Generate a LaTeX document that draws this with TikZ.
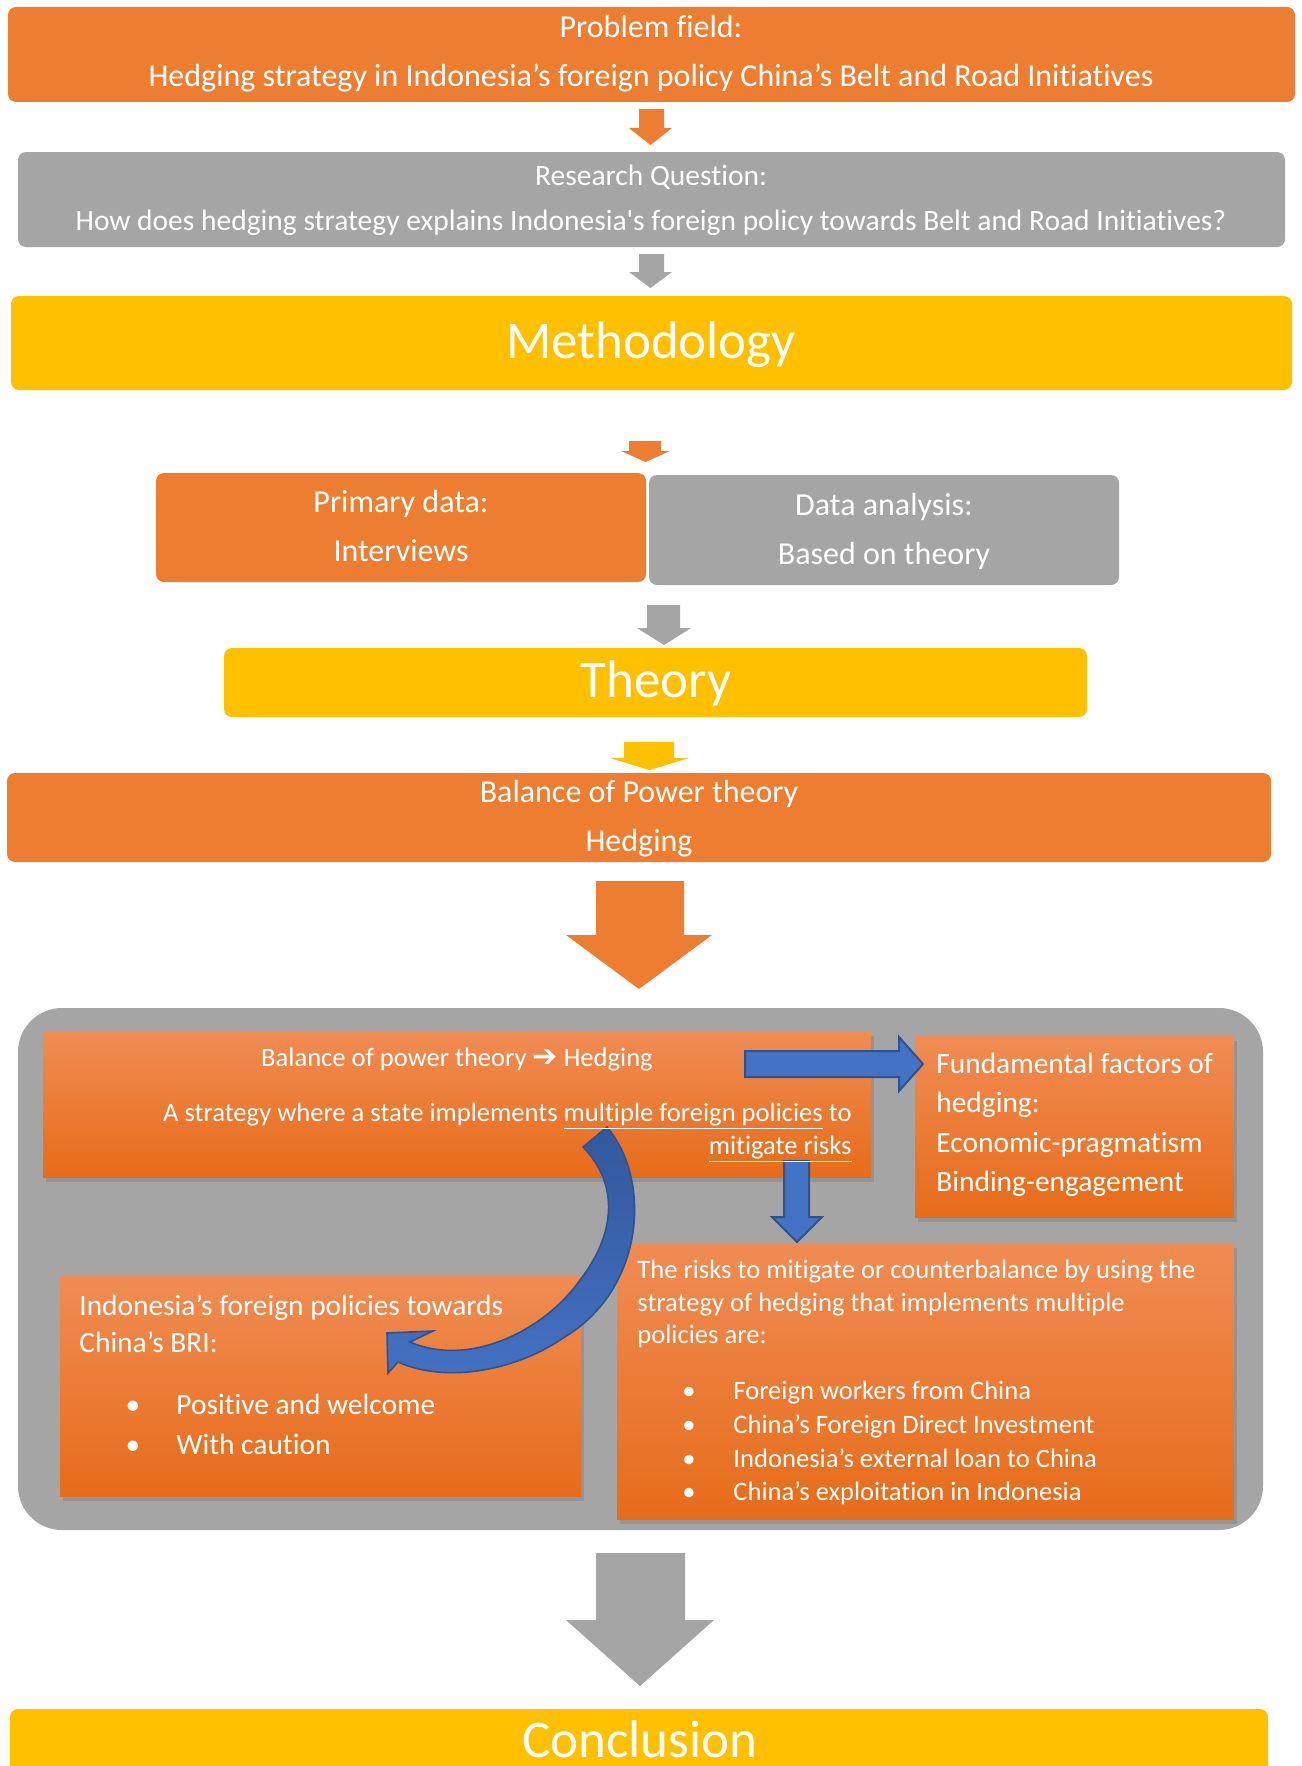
\documentclass[tikz,border=0pt]{standalone}
\usepackage{fontspec}
\setmainfont{Carlito}[Ligatures={TeX,NoCommon}]
\newfontfamily\djv{DejaVu Sans}
\usetikzlibrary{shadows,fit}
\definecolor{orng}{HTML}{ED7D31}
\definecolor{gry}{HTML}{A5A5A5}
\definecolor{ylw}{HTML}{FFC000}
\definecolor{blu}{HTML}{4472C4}
\definecolor{dblu}{HTML}{2F528F}
\definecolor{cblu}{HTML}{33589C}
\definecolor{gtop}{RGB}{240,140,84}
\definecolor{gmid}{RGB}{244,126,48}
\definecolor{gbot}{RGB}{230,108,25}
\begin{document}
\begin{tikzpicture}[x=0.5pt,y=-0.5pt,
  flatbox/.style={inner sep=0pt, rounded corners=4pt, draw=none},
  gradbox/.style={inner sep=0pt, top color=gtop, middle color=gmid, bottom color=gbot,
     drop shadow={opacity=0.45, shadow xshift=1.5pt, shadow yshift=-2.5pt}},
  txt/.style={text=white, anchor=base, inner sep=0pt},
  ltxt/.style={text=white, anchor=base west, inner sep=0pt},
  rtxt/.style={text=white, anchor=base east, inner sep=0pt},
  fA/.style={font=\fontsize{16}{19}\selectfont},
  fB/.style={font=\fontsize{14.75}{17}\selectfont},
  fC/.style={font=\fontsize{26.5}{30}\selectfont},
  fD/.style={font=\fontsize{13.3}{16}\selectfont},
  fE/.style={font=\fontsize{14.7}{17}\selectfont},
  bluearrow/.style={fill=blu, draw=dblu, line width=1pt, line join=miter}
]
\useasboundingbox (0,0) rectangle (1301,1766);
\fill[white] (0,0) rectangle (1301,1766);

% ---------- top boxes ----------
\node[flatbox, fill=orng, fit={(8,7)(1295,102)}] (prob) {};
\node[flatbox, fill=gry, fit={(18,152)(1285,247)}] (rq) {};
\node[flatbox, fill=ylw, fit={(11,296)(1292,390)}] (meth) {};
\node[flatbox, fill=orng, fit={(156,473)(646,582)}] (prim) {};
\node[flatbox, fill=gry, fit={(649,475)(1119,585)}] (dana) {};
\node[flatbox, fill=ylw, fit={(224,648)(1087,717)}] (theo) {};
\node[flatbox, fill=orng, fit={(7,773)(1271,862)}] (bop) {};

% ---------- block arrows ----------
\fill[orng] (639,109) -- (664,109) -- (664,128) -- (672,128) -- (650.5,145) -- (629,128) -- (639,128) -- cycle;
\fill[gry] (639,254) -- (664,254) -- (664,272) -- (672,272) -- (650.5,288) -- (629,272) -- (639,272) -- cycle;
\fill[orng] (629,441) -- (661,441) -- (661,451) -- (670,451) -- (645.5,462) -- (621,451) -- (629,451) -- cycle;
\fill[gry] (647,605) -- (680,605) -- (680,628) -- (691,628) -- (664,645) -- (637,628) -- (647,628) -- cycle;
\fill[ylw] (624,742) -- (674,742) -- (674,758) -- (689,758) -- (649.5,770) -- (610,758) -- (624,758) -- cycle;
\fill[orng] (596,881) -- (684,881) -- (684,935) -- (712,935) -- (639,989) -- (566,935) -- (596,935) -- cycle;
\fill[gry] (596,1553) -- (685,1553) -- (685,1620) -- (714,1620) -- (640,1686) -- (566,1620) -- (596,1620) -- cycle;

% ---------- container ----------
\node[inner sep=0pt, fill=gry, rounded corners=22pt, fit={(18,1008)(1263,1530)}] (cont) {};
\node[gradbox, fit={(43,1031)(871,1177)}] (boxA) {};
\node[gradbox, fit={(915,1036)(1234,1217)}] (boxF) {};
\node[gradbox, fit={(617,1243)(1234,1519)}] (boxR) {};
\node[gradbox, fit={(60,1276)(581,1496)}] (boxI) {};

% blue arrows
\draw[bluearrow] (745,1051) -- (899,1051) -- (899,1037) -- (923,1064) -- (899,1091) -- (899,1077) -- (745,1077) -- cycle;
\draw[bluearrow] (784,1161) -- (809,1161) -- (809,1217) -- (822,1217) -- (797,1242) -- (772,1217) -- (784,1217) -- cycle;
% curved arrow
\draw[dblu, line width=0.8pt, top color=cblu, bottom color=blu, line join=miter]
  (607,1127) .. controls (652,1180) and (645,1290) .. (563,1338)
  .. controls (520,1368) and (450,1385) .. (398,1362)
  -- (388,1373) -- (387,1333) -- (433,1331) -- (410,1342)
  .. controls (470,1368) and (545,1330) .. (580,1280)
  .. controls (615,1235) and (620,1185) .. (583,1147) -- cycle;

% ---------- conclusion ----------
\node[flatbox, fill=ylw, fit={(10,1709)(1268,1800)}] (concl) {};

% ---------- texts ----------
\node[txt, fA] (t1) at (651,38) {Problem field:};
\node[txt, fA] (t2) at (651,87) {Hedging strategy in Indonesia’s foreign policy China’s Belt and Road Initiatives};
\node[txt, fB] (t3) at (651,185) {Research Question:};
\node[txt, fB] (t4) at (651,230) {How does hedging strategy explains Indonesia\textquotesingle s foreign policy towards Belt and Road Initiatives?};
\node[txt, fC] (t5) at (651,358) {Methodology};
\node[txt, fA] (t6) at (401,512) {Primary data:};
\node[txt, fA] (t7) at (401,561) {Interviews};
\node[txt, fA] (t8) at (884,515) {Data analysis:};
\node[txt, fA] (t9) at (884,564) {Based on theory};
\node[txt, fC] (t10) at (656,697) {Theory};
\node[txt, fA] (t11) at (639,802) {Balance of Power theory};
\node[txt, fA] (t12) at (639,851) {Hedging};

\node[txt, fD] (a1) at (457,1066) {Balance of power theory {\djv\fontsize{15}{16}\selectfont ➔} Hedging};
\node[rtxt, fD] (a2) at (852,1121) {A strategy where a state implements \underline{multiple foreign policies} to};
\node[rtxt, fD] (a3) at (852,1154) {\underline{mitigate risks}};

\node[ltxt, fE] (f1) at (936,1073) {Fundamental factors of};
\node[ltxt, fE] (f2) at (936,1112) {hedging:};
\node[ltxt, fE] (f3) at (936,1152) {Economic-pragmatism};
\node[ltxt, fE] (f4) at (936,1191) {Binding-engagement};

\node[ltxt, fD] (r1) at (637,1278) {The risks to mitigate or counterbalance by using the};
\node[ltxt, fD] (r2) at (637,1311) {strategy of hedging that implements multiple};
\node[ltxt, fD] (r3) at (637,1343) {policies are:};
\foreach \yy/\tt [count=\i] in {1399/Foreign workers from China, 1433/China’s Foreign Direct Investment, 1467/Indonesia’s external loan to China, 1500/China’s exploitation in Indonesia}{
  \node[txt, fD] (rb\i) at (689,\yy) {\textbullet};
  \node[ltxt, fD] (rt\i) at (733,\yy) {\tt};
}

\node[ltxt, fE] (i1) at (79,1315) {Indonesia’s foreign policies towards};
\node[ltxt, fE] (i2) at (79,1352) {China’s BRI:};
\node[txt, fE] (ib1) at (133,1414) {\textbullet};
\node[ltxt, fE] (it1) at (176,1414) {Positive and welcome};
\node[txt, fE] (ib2) at (133,1454) {\textbullet};
\node[ltxt, fE] (it2) at (176,1454) {With caution};

\node[txt, fC] (c1) at (640,1757) {Conclusion};
\end{tikzpicture}
\end{document}
